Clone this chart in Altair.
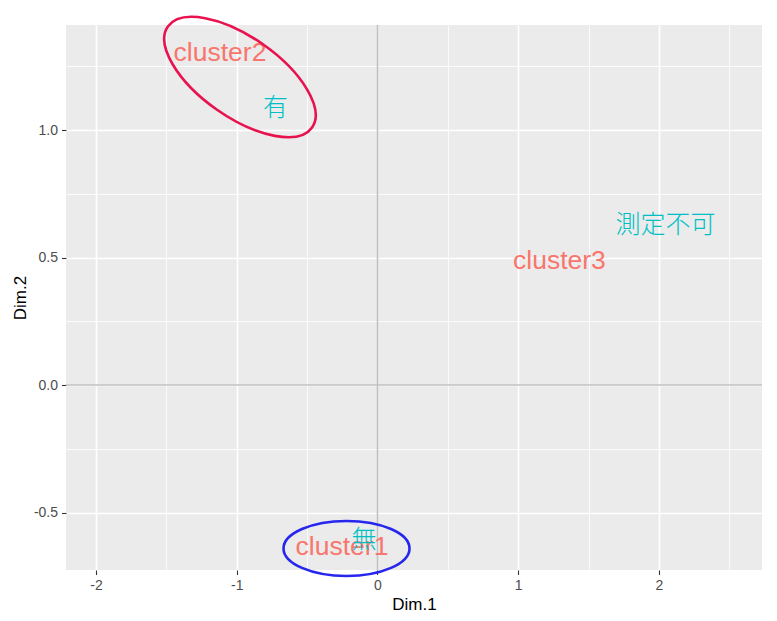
import altair as alt
import pandas as pd

# text labels (rows = clusters, columns = categories)
row_labels = ["cluster1", "cluster2", "cluster3"]
row_dim1 = [-0.252, -1.119, 1.293]
row_dim2 = [-0.635, 1.302, 0.486]

col_labels = ["無", "有", "測定不可"]
col_dim1 = [-0.096, -0.725, 2.046]
col_dim2 = [-0.608, 1.086, 0.627]

# hand-drawn annotation ellipses
ell_x = [-0.977, -0.220]
ell_y = [1.208, -0.641]

x_ticks = [-2, -1.5, -1, -0.5, 0, 0.5, 1, 1.5, 2, 2.5]
y_ticks = [-0.5, -0.25, 0, 0.25, 0.5, 0.75, 1.0, 1.25]

X_DOMAIN = [-2.213, 2.732]
Y_DOMAIN = [-0.7255, 1.412]

FONT = "Liberation Sans, Arial, Noto Sans CJK JP"
CJK_FONT = "Noto Sans CJK JP, Liberation Sans"

rows = pd.DataFrame({"label": row_labels, "x": row_dim1, "y": row_dim2})
cols = pd.DataFrame({"label": col_labels, "x": col_dim1, "y": col_dim2})
zero = pd.DataFrame({"v": [0]})


def ellipse_path(r):
    k = 0.5523
    a = r * k
    return (f"M 1 0 C 1 {a} {k} {r} 0 {r} C {-k} {r} -1 {a} -1 0 "
            f"C -1 {-a} {-k} {-r} 0 {-r} C {k} {-r} 1 {-a} 1 0 Z")


xscale = alt.Scale(domain=X_DOMAIN, nice=False, zero=False)
yscale = alt.Scale(domain=Y_DOMAIN, nice=False, zero=False)

xaxis = alt.Axis(
    values=x_ticks,
    labelExpr="datum.value % 1 === 0 ? '' + datum.value : ''",
    grid=True, gridColor="white",
    gridWidth={"condition": {"test": "datum.value % 1 === 0", "value": 1.6}, "value": 0.8},
    tickOpacity={"condition": {"test": "datum.value % 1 === 0", "value": 1}, "value": 0},
    tickColor="#333333", tickSize=4.5, tickWidth=1.1,
    labelColor="#4D4D4D", labelFontSize=14, labelPadding=4, labelFont=FONT,
    domain=False, title="Dim.1", titleFontSize=17, titleFont=FONT,
    titleFontWeight="normal", titleColor="black", titlePadding=4,
)
yaxis = alt.Axis(
    values=y_ticks,
    labelExpr="datum.value % 0.5 === 0 ? replace(format(datum.value, '.1f'), '\u2212', '-') : ''",
    grid=True, gridColor="white",
    gridWidth={"condition": {"test": "datum.value % 0.5 === 0", "value": 1.6}, "value": 0.8},
    tickOpacity={"condition": {"test": "datum.value % 0.5 === 0", "value": 1}, "value": 0},
    tickColor="#333333", tickSize=4.5, tickWidth=1.1,
    labelColor="#4D4D4D", labelFontSize=14, labelPadding=4, labelFont=FONT,
    domain=False, title="Dim.2", titleFontSize=17, titleFont=FONT,
    titleFontWeight="normal", titleColor="black", titlePadding=4,
)

X = alt.X("x:Q", scale=xscale, axis=xaxis)
Y = alt.Y("y:Q", scale=yscale, axis=yaxis)

vline = alt.Chart(zero).mark_rule(color="#c0c0c0", strokeWidth=1.6).encode(
    x=alt.X("v:Q", scale=xscale, axis=xaxis))
hline = alt.Chart(zero).mark_rule(color="#c0c0c0", strokeWidth=1.6).encode(
    y=alt.Y("v:Q", scale=yscale, axis=yaxis))

row_text = alt.Chart(rows).mark_text(
    fontSize=26.5, font=FONT, align="center", baseline="middle", color="#F8766D"
).encode(x=X, y=Y, text="label:N")

col_text = alt.Chart(cols).mark_text(
    fontSize=25, font=CJK_FONT, fontWeight=300, align="center", baseline="middle",
    color="#00BFC4"
).encode(x=X, y=Y, text="label:N")

ell_df1 = pd.DataFrame({"x": ell_x[:1], "y": ell_y[:1]})
ell_df2 = pd.DataFrame({"x": ell_x[1:], "y": ell_y[1:]})

red_ell = alt.Chart(ell_df1).mark_point(
    shape=ellipse_path(0.4545), filled=False, stroke="#e8124f", strokeWidth=2.6,
    opacity=1, size=176 * 176, angle=35,
).encode(x=X, y=Y)

blue_ell = alt.Chart(ell_df2).mark_point(
    shape=ellipse_path(0.4365), filled=False, stroke="#2626ee", strokeWidth=2.6,
    opacity=1, size=126 * 126,
).encode(x=X, y=Y)

chart = alt.layer(vline, hline, row_text, col_text, red_ell, blue_ell).properties(
    width=696, height=545,
    autosize=alt.AutoSizeParams(type="none"),
    padding={"left": 58, "top": 17, "right": 7, "bottom": 43},
    background="white",
).configure_view(fill="#EBEBEB", stroke=None)

chart.save("out.html", embed_options={"renderer": "svg", "actions": False})
